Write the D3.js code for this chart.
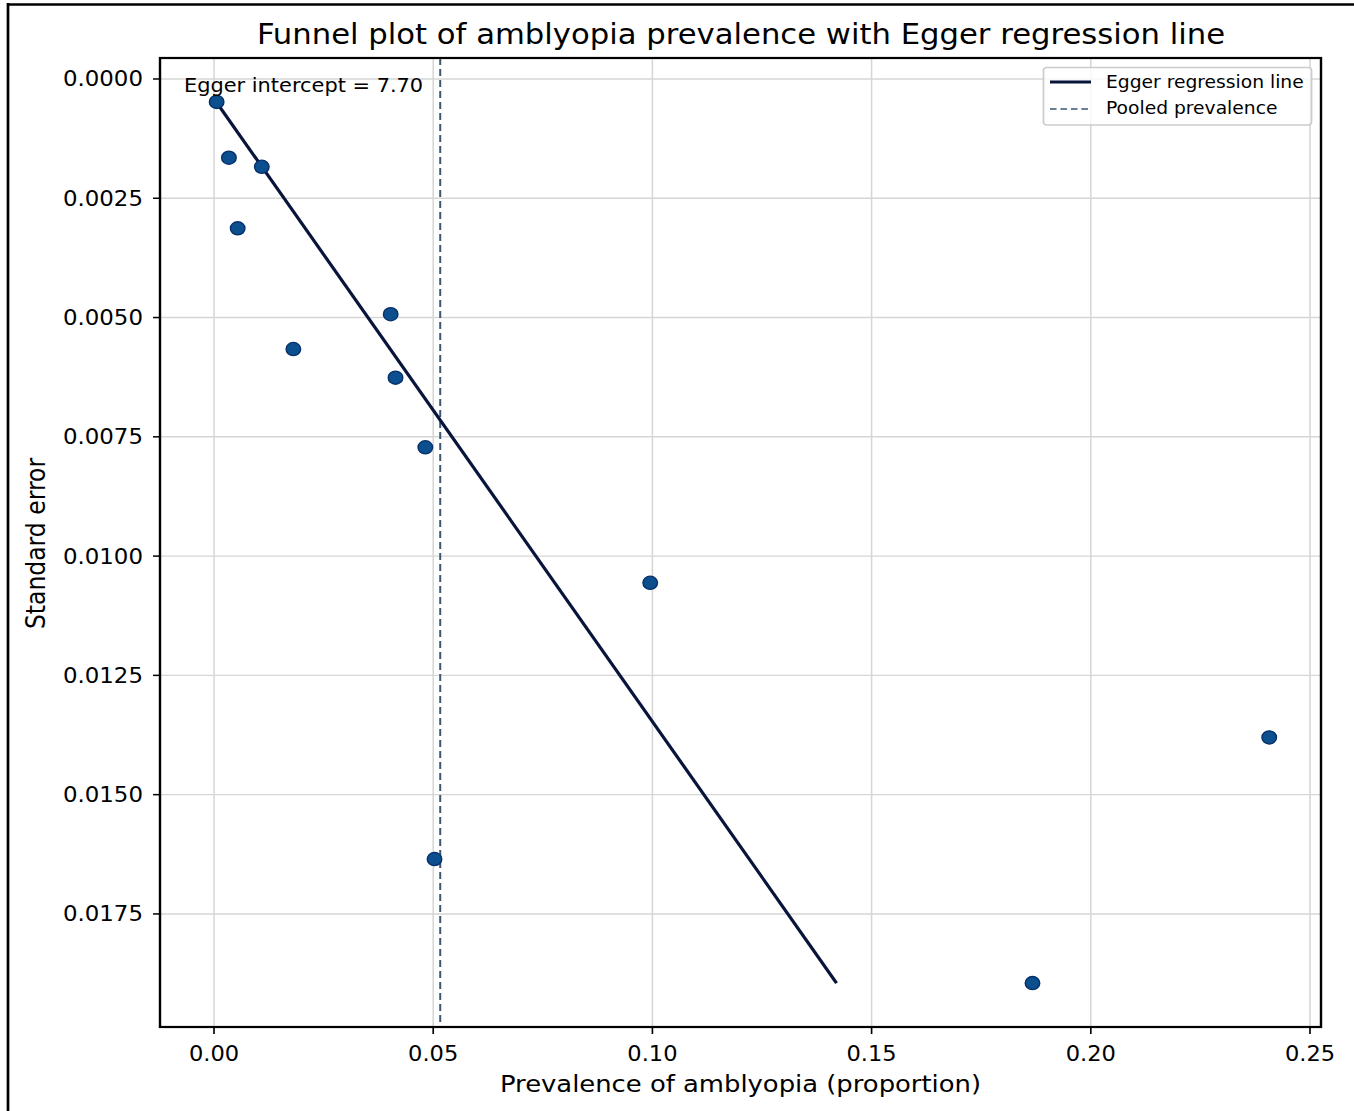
<!DOCTYPE html>
<html>
<head>
<meta charset="utf-8">
<script src="https://cdn.jsdelivr.net/npm/d3@7"></script>
<style>
  body { margin: 0; background: #fff; }
  svg { display: block; }
  text { font-family: "DejaVu Sans", sans-serif; fill: #000; }
</style>
</head>
<body>
<div id="chart"></div>
<script>
// Study prevalences (proportion) and their standard errors
const prevalence = [0.0006, 0.0034, 0.0109, 0.0054, 0.0181, 0.0403, 0.0414, 0.0482, 0.0995, 0.0503, 0.1867, 0.2407];
const stdError   = [0.00048, 0.00165, 0.00184, 0.00313, 0.00566, 0.00493, 0.00626, 0.00772, 0.01056, 0.01635, 0.01895, 0.01380];

// Egger regression line end points and pooled prevalence
const eggerX = [0.0005, 0.1420];
const eggerSE = [0.00048, 0.01895];
const pooledPrevalence = 0.0516;
const eggerIntercept = 7.70;

// Tick labels
const xTicks = [0.00, 0.05, 0.10, 0.15, 0.20, 0.25];
const yTicks = [0.0000, 0.0025, 0.0050, 0.0075, 0.0100, 0.0125, 0.0150, 0.0175];

const W = 1354, H = 1111;
const sx = 1.1; // the picture is a little wider than tall

const svg = d3.select("#chart").append("svg")
  .attr("width", W)
  .attr("height", H);

// outer frame (left and top edges only are visible)
svg.append("line").attr("x1", 8).attr("x2", 8).attr("y1", 3).attr("y2", H)
  .attr("stroke", "#000").attr("stroke-width", 2.7);
svg.append("line").attr("x1", 7).attr("x2", W).attr("y1", 4.5).attr("y2", 4.5)
  .attr("stroke", "#000").attr("stroke-width", 2.7);

const g = svg.append("g").attr("transform", `scale(${sx},1)`);

const plotLeft = 160 / sx, plotRight = 1321 / sx, plotTop = 58, plotBottom = 1027;

const x = d3.scaleLinear()
  .domain([-0.01232, 0.25251])
  .range([plotLeft, plotRight]);
const y = d3.scaleLinear()
  .domain([-0.00044, 0.01987])
  .range([plotTop, plotBottom]);

// grid
g.append("g").selectAll("line").data(xTicks).join("line")
  .attr("x1", d => x(d)).attr("x2", d => x(d))
  .attr("y1", plotTop).attr("y2", plotBottom)
  .attr("stroke", "#d6d6d6").attr("stroke-width", 1.4);
g.append("g").selectAll("line").data(yTicks).join("line")
  .attr("x1", plotLeft).attr("x2", plotRight)
  .attr("y1", d => y(d)).attr("y2", d => y(d))
  .attr("stroke", "#d6d6d6").attr("stroke-width", 1.4);

// pooled prevalence line
g.append("line")
  .attr("x1", x(pooledPrevalence)).attr("x2", x(pooledPrevalence))
  .attr("y1", plotTop).attr("y2", plotBottom)
  .attr("stroke", "#3b5672").attr("stroke-width", 1.8)
  .attr("stroke-dasharray", "7,4");

// Egger regression line
g.append("path")
  .datum(d3.zip(eggerX, eggerSE))
  .attr("d", d3.line().x(d => x(d[0])).y(d => y(d[1])))
  .attr("fill", "none")
  .attr("stroke", "#08143a")
  .attr("stroke-width", 3);

// study points
g.append("g").selectAll("circle").data(d3.zip(prevalence, stdError)).join("circle")
  .attr("cx", d => x(d[0]))
  .attr("cy", d => y(d[1]))
  .attr("r", 6.6)
  .attr("fill", "#0b4f8f")
  .attr("stroke", "#06306a")
  .attr("stroke-width", 1.3);

// axes box
g.append("rect")
  .attr("x", plotLeft).attr("y", plotTop)
  .attr("width", plotRight - plotLeft).attr("height", plotBottom - plotTop)
  .attr("fill", "none").attr("stroke", "#000").attr("stroke-width", 2.2);

// x ticks
const xAxis = g.append("g");
xAxis.selectAll("line").data(xTicks).join("line")
  .attr("x1", d => x(d)).attr("x2", d => x(d))
  .attr("y1", plotBottom).attr("y2", plotBottom + 7)
  .attr("stroke", "#000").attr("stroke-width", 1.5);
xAxis.selectAll("text").data(xTicks).join("text")
  .attr("x", d => x(d)).attr("y", 1061)
  .attr("text-anchor", "middle")
  .style("font-size", "20.5px")
  .text(d => d3.format(".2f")(d));

// y ticks
const yAxis = g.append("g");
yAxis.selectAll("line").data(yTicks).join("line")
  .attr("x1", plotLeft - 7 / sx).attr("x2", plotLeft)
  .attr("y1", d => y(d)).attr("y2", d => y(d))
  .attr("stroke", "#000").attr("stroke-width", 1.5);
yAxis.selectAll("text").data(yTicks).join("text")
  .attr("x", 143 / sx).attr("y", d => y(d) + 7.5)
  .attr("text-anchor", "end")
  .style("font-size", "20.8px")
  .text(d => d3.format(".4f")(d));

// title and axis labels
g.append("text")
  .attr("x", 741 / sx).attr("y", 44)
  .attr("text-anchor", "middle")
  .style("font-size", "27.9px")
  .text("Funnel plot of amblyopia prevalence with Egger regression line");
g.append("text")
  .attr("x", 740.5 / sx).attr("y", 1092)
  .attr("text-anchor", "middle")
  .style("font-size", "23.5px")
  .text("Prevalence of amblyopia (proportion)");
g.append("text")
  .attr("transform", `translate(${45 / sx},543.5) rotate(-90)`)
  .attr("text-anchor", "middle")
  .style("font-size", "23.5px")
  .text("Standard error");

// annotation
g.append("text")
  .attr("x", 184 / sx).attr("y", 92)
  .style("font-size", "19px")
  .text(`Egger intercept = ${eggerIntercept.toFixed(2)}`);

// legend
const lg = g.append("g");
lg.append("rect")
  .attr("x", 1043.5 / sx).attr("y", 67.5)
  .attr("width", (1311.5 - 1043.5) / sx).attr("height", 57.5)
  .attr("rx", 3).attr("ry", 3)
  .attr("fill", "#fff").attr("fill-opacity", 0.8)
  .attr("stroke", "#cccccc").attr("stroke-width", 1.6);
lg.append("line")
  .attr("x1", 1050 / sx).attr("x2", 1091 / sx)
  .attr("y1", 82).attr("y2", 82)
  .attr("stroke", "#08143a").attr("stroke-width", 3);
lg.append("line")
  .attr("x1", 1050 / sx).attr("x2", 1091 / sx)
  .attr("y1", 109).attr("y2", 109)
  .attr("stroke", "#3b5672").attr("stroke-width", 1.5)
  .attr("stroke-dasharray", "6,3.5");
lg.append("text")
  .attr("x", 1106 / sx).attr("y", 88)
  .style("font-size", "17px")
  .text("Egger regression line");
lg.append("text")
  .attr("x", 1106 / sx).attr("y", 114)
  .style("font-size", "17px")
  .text("Pooled prevalence");
</script>
</body>
</html>
